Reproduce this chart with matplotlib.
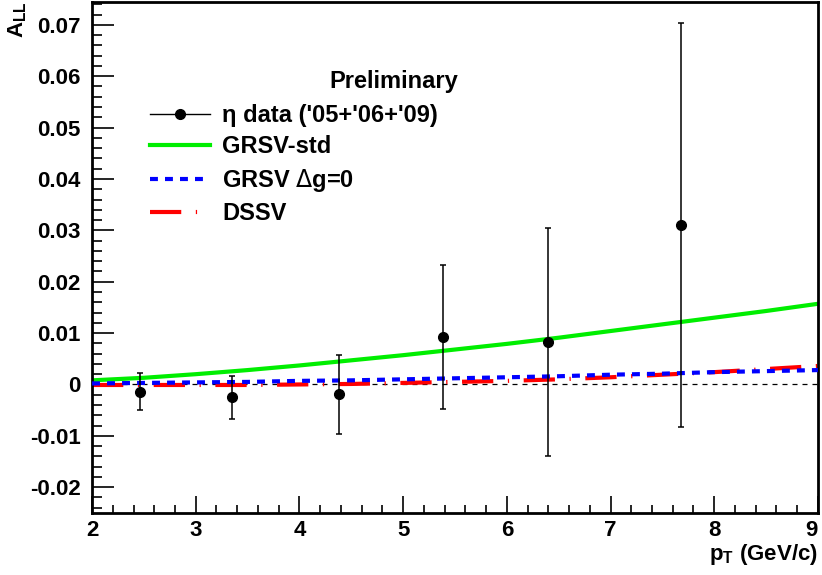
import matplotlib.pyplot as plt
from matplotlib.lines import Line2D
from matplotlib.ticker import MultipleLocator

plt.rcParams['font.family'] = ['Liberation Sans', 'DejaVu Sans']

# eta A_LL data points
pt = [2.46, 3.35, 4.38, 5.38, 6.40, 7.68]
all_val = [-0.0014, -0.0025, -0.0019, 0.0093, 0.0082, 0.0310]
all_err = [0.0036, 0.0042, 0.0077, 0.0140, 0.0222, 0.0393]

# theory curves
pt_th = [2.0, 2.5, 3.0, 3.5, 4.0, 4.5, 5.0, 5.5, 6.0, 6.5, 7.0, 7.5, 8.0, 8.5, 9.0]
grsv_std = [0.0008, 0.0013, 0.0020, 0.0028, 0.0037, 0.0047, 0.0057, 0.0068,
            0.0079, 0.0091, 0.0104, 0.0117, 0.0130, 0.0143, 0.0157]
grsv_zero = [0.0002, 0.0003, 0.0004, 0.0005, 0.0007, 0.0008, 0.0010, 0.0012,
             0.0014, 0.0016, 0.0019, 0.0021, 0.0024, 0.0026, 0.0028]
dssv = [-0.0001, -0.0001, -0.0001, -0.0001, 0.0000, 0.0001, 0.0003, 0.0005,
        0.0007, 0.0010, 0.0014, 0.0019, 0.0024, 0.0030, 0.0036]

fig = plt.figure(figsize=(8.22, 5.75), dpi=100)
ax = fig.add_axes([0.112, 0.108, 0.883, 0.889])

ax.axhline(0, color='black', lw=0.9, ls=(0, (4, 4)), zorder=1)
l_std, = ax.plot(pt_th, grsv_std, color='#00ee00', lw=3, zorder=2)
l_zero, = ax.plot(pt_th, grsv_zero, color='#0000ff', lw=3, ls=(0, (1.9, 1.7)), zorder=3)
l_dssv, = ax.plot(pt_th, dssv, color='#ff0000', lw=3, ls=(0, (7.5, 3.5, 0.3, 3.5)), zorder=2)
ax.errorbar(pt, all_val, yerr=all_err, fmt='o', color='black', ms=7,
            elinewidth=1.1, capsize=2.5, capthick=1.1, zorder=4)

ax.set_xlim(2, 9)
ax.set_ylim(-0.025, 0.0745)
ax.set_xticks(range(2, 10))
ax.xaxis.set_minor_locator(MultipleLocator(0.2))
ax.yaxis.set_major_locator(MultipleLocator(0.01))
ax.yaxis.set_minor_locator(MultipleLocator(0.002))
ax.tick_params(which='both', direction='in', top=False, right=False, width=1.2)
ax.tick_params(which='major', labelsize=16)
ax.tick_params(axis='y', which='major', length=16, pad=8)
ax.tick_params(axis='y', which='minor', length=7)
ax.tick_params(axis='x', which='major', length=12, pad=5)
ax.tick_params(axis='x', which='minor', length=6)
ax.yaxis.set_major_formatter(plt.FuncFormatter(lambda v, p: '0' if abs(v) < 1e-9 else f'{v:.2f}'))
for lab in ax.get_xticklabels() + ax.get_yticklabels():
    lab.set_fontweight('bold')
# keep the last x label inside the canvas
for lab in ax.get_xticklabels():
    if lab.get_position()[0] == 9:
        lab.set_horizontalalignment('right')
for sp in ax.spines.values():
    sp.set_linewidth(2)

fig.text(0.022, 0.965, r'A$_{\mathregular{LL}}$', rotation=90, fontsize=16,
         fontweight='bold', ha='center', va='center')
fig.text(0.995, 0.036, r'p$_{\mathregular{T}}$ (GeV/c)', fontsize=16,
         fontweight='bold', ha='right', va='center')

fig.text(0.557, 0.858, 'Preliminary', fontsize=17, fontweight='bold',
         ha='right', va='center')

data_handle = Line2D([], [], color='black', lw=1, marker='o', ms=7)
leg = ax.legend([data_handle, l_std, l_zero, l_dssv],
                ["η data ('05+'06+'09)", 'GRSV-std', r'GRSV $\Delta$g=0', 'DSSV'],
                loc='upper left', bbox_to_anchor=(0.080, 0.80), frameon=False,
                prop={'size': 17, 'weight': 'bold'}, handlelength=2.55,
                handletextpad=0.5, labelspacing=0.36, borderpad=0, borderaxespad=0)

fig.savefig('out.png', dpi=100)
